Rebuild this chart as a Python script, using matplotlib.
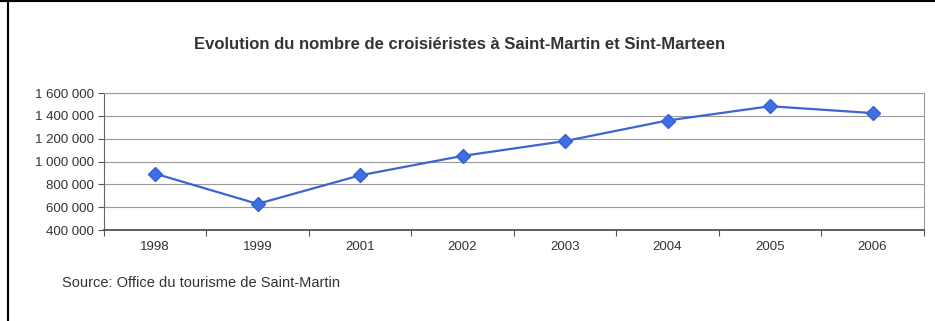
import matplotlib.pyplot as plt
from matplotlib.lines import Line2D
from matplotlib.ticker import FuncFormatter

# Data
years = ['1998', '1999', '2001', '2002', '2003', '2004', '2005', '2006']
passengers = [895000, 630000, 880000, 1050000, 1180000, 1360000, 1485000, 1425000]

plt.rcParams['font.family'] = ['Liberation Sans', 'DejaVu Sans']

fig = plt.figure(figsize=(9.35, 3.21), dpi=100)
ax = fig.add_axes([0.111, 0.283, 0.877, 0.427])

x = list(range(len(years)))
ax.plot(x, passengers, color='#3d64d0', lw=1.6, marker='D', markersize=7,
        markerfacecolor='#3f6fe0', markeredgecolor='#3560d0', zorder=3)

ax.set_xlim(-0.5, len(years) - 0.5)
ax.set_ylim(400000, 1600000)
ax.set_yticks(range(400000, 1600001, 200000))
ax.yaxis.set_major_formatter(FuncFormatter(lambda v, p: f'{int(v):,}'.replace(',', ' ')))
ax.grid(axis='y', color='#9a9a9a', lw=0.8)
ax.set_axisbelow(True)

# categories centred between tick marks, like the spreadsheet original
ax.set_xticks([i + 0.5 for i in range(-1, len(years))], minor=False)
ax.set_xticklabels([])
ax.set_xticks(x, minor=True)
ax.set_xticklabels(years, minor=True)
ax.tick_params(axis='x', which='major', length=4, color='#555555', direction='out')
ax.tick_params(axis='x', which='minor', length=0, pad=8, labelsize=9.5, labelcolor='#333333')
ax.tick_params(axis='y', length=4, color='#555555', labelsize=9.5, labelcolor='#333333', pad=3)

for side in ['top', 'right']:
    ax.spines[side].set_color('#9a9a9a')
    ax.spines[side].set_linewidth(0.8)
ax.spines['left'].set_color('#666666')
ax.spines['bottom'].set_color('#444444')
ax.spines['bottom'].set_linewidth(1.2)

fig.text(0.492, 0.86, 'Evolution du nombre de croisiéristes à Saint-Martin et Sint-Marteen',
         ha='center', va='center', fontsize=12, fontweight='bold', color='#333333')
fig.text(0.066, 0.118, 'Source: Office du tourisme de Saint-Martin',
         ha='left', va='center', fontsize=10.5, color='#333333')

# table border from the scanned page
fig.add_artist(Line2D([0, 1], [0.997, 0.997], color='black', lw=1.5, transform=fig.transFigure))
fig.add_artist(Line2D([0.009, 0.009], [0, 1], color='black', lw=1.5, transform=fig.transFigure))

fig.savefig('out.png', dpi=100)
